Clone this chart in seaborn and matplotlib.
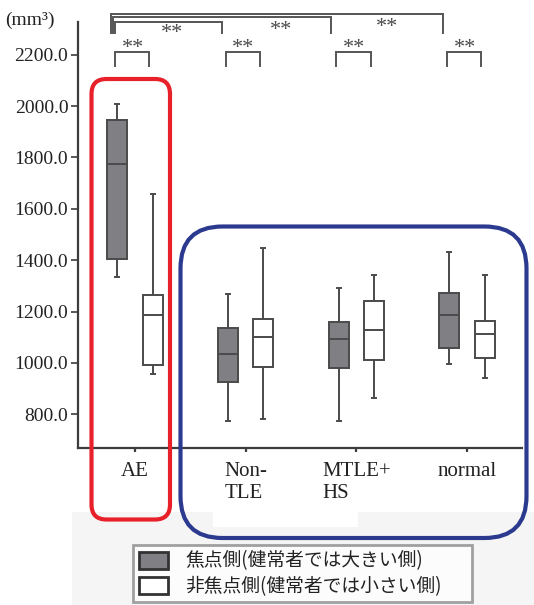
import numpy as np
import pandas as pd
import matplotlib
matplotlib.use("Agg")
import matplotlib.pyplot as plt
from matplotlib.patches import FancyBboxPatch, Patch, Rectangle
import seaborn as sns

# Categories and sides
groups = ["AE", "Non-\nTLE", "MTLE+\nHS", "normal"]
sides = ["焦点側(健常者では大きい側)", "非焦点側(健常者では小さい側)"]

# Five-number summaries (min, Q1, median, Q3, max), mm³
ae_focal = [1333, 1403, 1774, 1945, 2008]
ae_nonfocal = [957, 992, 1187, 1264, 1657]
nontle_focal = [773, 926, 1036, 1135, 1268]
nontle_nonfocal = [780, 984, 1100, 1173, 1447]
mtle_focal = [776, 979, 1093, 1160, 1292]
mtle_nonfocal = [862, 1013, 1128, 1240, 1342]
normal_focal = [997, 1057, 1188, 1272, 1432]
normal_nonfocal = [940, 1021, 1114, 1162, 1342]

y_ticks = [800, 1000, 1200, 1400, 1600, 1800, 2000, 2200]
star_label = "**"

focal_sets = [ae_focal, nontle_focal, mtle_focal, normal_focal]
nonfocal_sets = [ae_nonfocal, nontle_nonfocal, mtle_nonfocal, normal_nonfocal]

rows = []
for g, f, n in zip(groups, focal_sets, nonfocal_sets):
    rows += [(g, sides[0], v) for v in f]
    rows += [(g, sides[1], v) for v in n]
df = pd.DataFrame(rows, columns=["group", "side", "volume"])

plt.rcParams["font.family"] = ["Liberation Serif", "DejaVu Serif"]

W, H = 534, 605
fig = plt.figure(figsize=(W / 100, H / 100), dpi=100)
fig.patch.set_facecolor("white")

# helper: pixel coordinates (from top-left) -> inches for an isotropic transform
def px(x, y):
    return x / 100, (H - y) / 100

# light paper tone under the lower part
fig.patches.append(Rectangle(px(72, 605), (534 - 72) / 100, (605 - 512) / 100,
                             transform=fig.dpi_scale_trans, facecolor="#f5f5f5",
                             edgecolor="none", zorder=0))
fig.patches.append(Rectangle(px(213, 527), (358 - 213) / 100, (527 - 512) / 100,
                             transform=fig.dpi_scale_trans, facecolor="white",
                             edgecolor="none", zorder=0))

ax = fig.add_axes([78 / W, 1 - 448 / H, (522 - 78) / W, (448 - 22) / H])
ax.set_facecolor("none")

box_gray = "#808084"
line_col = "#4a4a4a"
sns.boxplot(data=df, x="group", y="volume", hue="side", order=groups,
            hue_order=sides, palette=[box_gray, "white"], saturation=1,
            width=0.64, gap=0.44, whis=np.inf, linecolor=line_col,
            linewidth=1.4, legend=False, ax=ax, capwidths=0.035)

ax.set_xlim(-0.515, 3.497)
ax.set_ylim(669, 2327)
ax.set_yticks(y_ticks)
ax.set_yticklabels([f"{v:.1f}" for v in y_ticks])
ax.set_xlabel("")
ax.set_ylabel("")
for s in ["top", "right"]:
    ax.spines[s].set_visible(False)
for s in ["left", "bottom"]:
    ax.spines[s].set_color("#3c3c3c")
    ax.spines[s].set_linewidth(1.6)
ax.tick_params(axis="y", direction="out", length=5, width=1.2, color="#3c3c3c",
               labelsize=14, pad=2, labelcolor="#222222")
ax.tick_params(axis="x", direction="out", length=3, width=1.6, color="#3c3c3c",
               labelsize=15, pad=7, labelcolor="#222222")
for lab in ax.get_xticklabels():
    lab.set_multialignment("left")
    lab.set_linespacing(1.25)

# significance brackets
br_kw = dict(color="#555555", lw=1.4, clip_on=False, solid_joinstyle="miter")
star_kw = dict(ha="center", va="center", fontsize=16, color="#4a4a4a",
               clip_on=False)
for i in range(4):
    x0, x1 = i - 0.18, i + 0.13
    ax.plot([x0, x0, x1, x1], [2157, 2212, 2212, 2157], **br_kw)
    ax.text(i - 0.02, 2222, star_label, **star_kw)

big = [(-0.18, 0.783, 2327), (-0.199, 1.774, 2346), (-0.217, 2.783, 2358)]
for x0, x1, yt in big:
    ax.plot([x0, x0, x1, x1], [2284, yt, yt, 2284], **br_kw)
for xs, ys in [(0.334, 2284), (1.32, 2295), (2.28, 2307)]:
    ax.text(xs, ys, star_label, **star_kw)

# unit label
fig.text(5 / W, 1 - 20 / H, "(mm³)", ha="left", va="center", fontsize=14,
         color="#222222")

# highlight frames
def rframe(x0, y0, x1, y1, r, color):
    (ax0, ay1) = px(x0, y1)
    p = FancyBboxPatch((ax0, ay1), (x1 - x0) / 100, (y1 - y0) / 100,
                       boxstyle=f"round,pad=0,rounding_size={r / 100}",
                       transform=fig.dpi_scale_trans, facecolor="none",
                       edgecolor=color, linewidth=3, zorder=5)
    fig.patches.append(p)

rframe(91.5, 79, 170, 519.5, 15, "#e8202a")
rframe(180.5, 226.5, 526.5, 538, 42, "#2b3a8f")

# legend
handles = [Patch(facecolor=box_gray, edgecolor="#333333", linewidth=2),
           Patch(facecolor="white", edgecolor="#333333", linewidth=2)]
leg = fig.legend(handles, sides, loc="upper left", mode="expand",
                 bbox_to_anchor=(133 / W, 1 - 545 / H, (472 - 133) / W, 0.0),
                 bbox_transform=fig.transFigure,
                 prop={"family": ["Noto Sans CJK JP", "DejaVu Sans"], "size": 13.5},
                 frameon=True, fancybox=False, handlelength=1.55, handleheight=1.0,
                 handletextpad=0.95, labelspacing=0.22, borderpad=0.3,
                 borderaxespad=0)
leg.get_frame().set_edgecolor("#8a8a8a")
leg.get_frame().set_linewidth(2)
leg.get_frame().set_facecolor("white")
for t in leg.get_texts():
    t.set_color("#222222")

fig.savefig("out.png", dpi=100)
